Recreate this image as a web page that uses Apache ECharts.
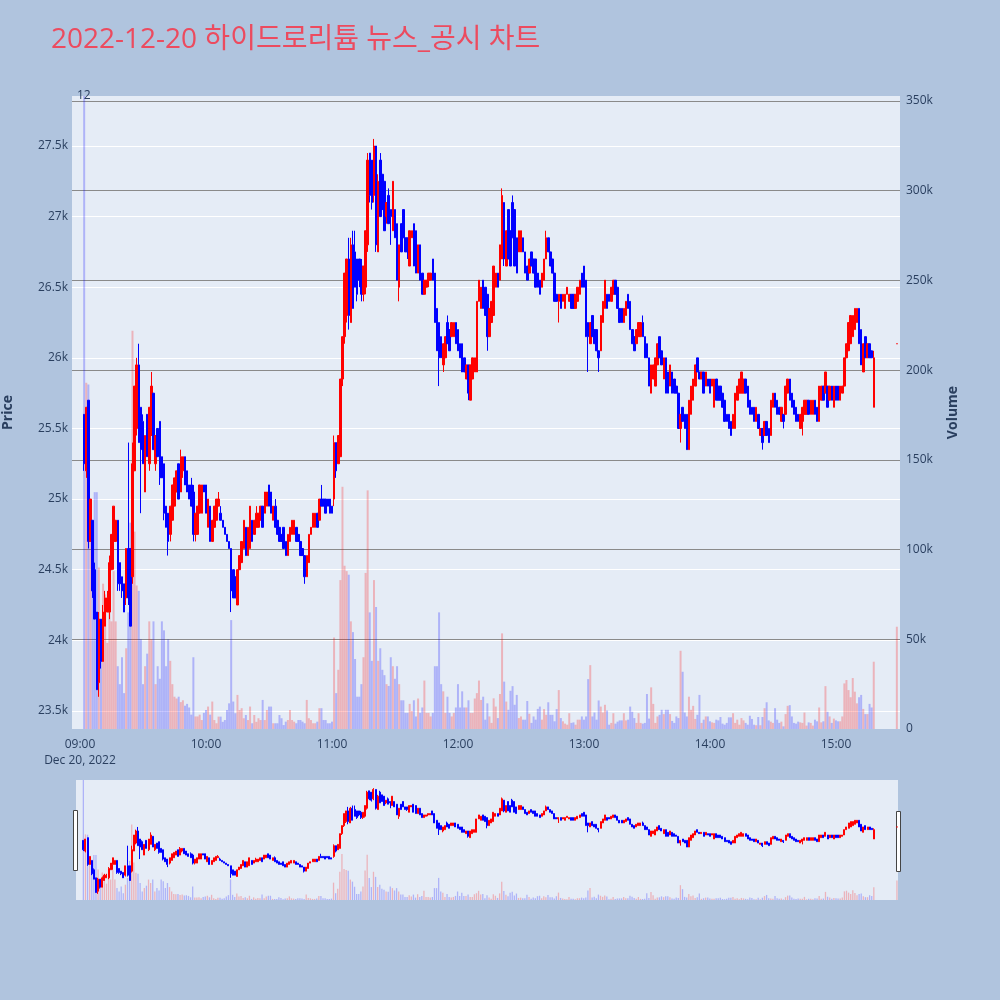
<!DOCTYPE html>
<html><head><meta charset="utf-8">
<script src="https://cdn.jsdelivr.net/npm/echarts@6/dist/echarts.min.js"></script>
<style>html,body{margin:0;padding:0;background:#b0c4de;}#c{width:1000px;height:1000px;}</style>
</head><body><div id="c"></div>
<script>
const chartTitle = '2022-12-20 하이드로리튬 뉴스_공시 차트';
const dateLabel = 'Dec 20, 2022';
const firstMinute = '09:02';
const closingAuctionTime = '15:29';
// [open, close, low, high] per minute
const candles = [
[25600,25250,25200,25600],[25200,25650,25150,25650],[25700,24700,24650,25700],[24700,25000,24700,25000],[24850,24350,24300,24850],
[24500,24150,24150,24550],[24200,23650,23650,24200],[23700,24150,23600,24200],[24150,23850,23800,24150],[23850,24200,23850,24250],
[24100,24300,24100,24350],[24200,24300,24200,24350],[24200,24550,24150,24600],[24500,24750,24500,24750],[24700,24950,24500,24950],
[24700,24850,24700,24850],[24850,24400,24350,24850],[24550,24400,24350,24550],[24450,24350,24300,24450],[24400,24200,24200,24400],
[24300,24650,24250,24650],[24650,24300,24250,25400],[24650,24100,24100,24650],[24450,25250,24400,25400],[25200,25800,25200,25800],
[25500,25950,25450,26000],[25950,25400,25400,26100],[25650,25350,24900,25650],[25550,25250,25250,25600],[25050,25450,25050,25450],
[25600,25300,25300,25600],[25250,25650,25200,25650],[25450,25800,25450,25900],[25750,25350,25350,25750],[25250,25450,25200,25450],
[25500,25300,25300,25500],[25550,25150,25100,25550],[25300,25150,25150,25300],[25250,24900,24850,25250],[24950,24800,24800,24950],
[24900,24700,24600,24900],[24750,24950,24700,24950],[24850,25100,24850,25100],[24950,25150,24950,25150],[25050,25200,25050,25200],
[25250,25000,25000,25250],[25050,25300,25050,25350],[25200,25300,25150,25300],[25300,25100,25100,25300],[25200,25050,25050,25200],
[25100,25000,25000,25100],[25100,24950,24950,25150],[25050,24750,24700,25100],[24750,24900,24700,24900],[24750,24950,24750,24950],
[24900,25100,24900,25100],[24900,25100,24900,25100],[25100,25050,25050,25100],
[25100,24900,24900,25100],[24800,25000,24800,25000],[24950,24700,24700,24950],[24700,24850,24700,24850],[24800,24950,24800,24950],
[24850,25000,24850,25000],[24950,25000,24950,25050],[24900,24850,24850,24950],[24850,24800,24800,24850],[24800,24750,24750,24800],
[24750,24700,24700,24750],[24700,24650,24650,24700],[24650,24350,24200,24650],[24500,24300,24300,24500],[24450,24300,24300,24450],
[24250,24500,24250,24500],[24500,24600,24500,24600],[24550,24700,24550,24700],[24650,24850,24650,24850],[24800,24600,24600,24800],
[24600,24800,24600,24800],[24650,24950,24650,24950],[24850,24700,24700,24850],[24750,24850,24750,24850],[24800,24900,24800,24950],
[24800,24900,24800,24900],[24850,24950,24850,24950],[24950,24800,24800,24950],[24900,25050,24900,25050],[24950,25050,24950,25050],
[25100,24950,24950,25100],[25050,24900,24900,25050],[24850,24950,24850,24950],[24950,24800,24800,25000],[24850,24750,24750,24850],
[24800,24700,24700,24800],[24750,24700,24700,24750],[24800,24650,24650,24800],[24700,24600,24600,24700],[24600,24750,24600,24750],
[24700,24800,24700,24800],[24750,24850,24750,24850],[24750,24850,24750,24850],[24800,24700,24700,24800],[24750,24700,24700,24750],
[24700,24600,24600,24700],[24650,24600,24600,24650],[24600,24450,24400,24600],[24450,24600,24450,24600],[24550,24750,24550,24750],
[24750,24800,24750,24800],[24800,24900,24800,24900],[24800,24900,24800,24900],[24900,24800,24800,24900],[24850,25000,24850,25000],
[25000,24950,24950,25100],[25000,24950,24950,25000],[25000,24900,24900,25000],[25000,24950,24950,25000],[25000,24900,24900,25000],
[24950,24900,24900,24950],
[25000,25400,24950,25450],[25400,25200,25150,25400],[25250,25450,25250,25450],[25300,25850,25300,25850],[25850,26150,25800,26150],
[26150,26600,26100,26600],[26300,26700,26250,26700],[26700,26300,26200,26850],[26250,26800,26250,26850],[26800,26350,26350,26900],
[26750,26500,26500,26900],[26700,26450,26400,26700],[26700,26550,26500,26700],[26650,26450,26400,26700],[26450,26650,26400,26650],
[26500,26900,26450,26900],[26800,27400,26750,27450],[27450,27150,27100,27450],[27400,27100,27050,27400],[27150,27500,27100,27550],
[27500,26800,26750,27500],[26750,27250,26750,27300],[27400,27000,27000,27450],[27300,27050,27050,27300],[27250,26900,26900,27250],
[27000,27100,26950,27100],[27150,26950,26950,27200],[27050,27000,26800,27050],[26900,27250,26900,27250],[27050,26850,26850,27050],
[26950,26550,26550,26950],[26500,26800,26400,26800],[26950,26750,26750,26950],[27050,26850,26850,27050],[26850,26750,26750,26850],
[26850,26750,26700,26850],[26650,26900,26650,26900],[26850,26900,26850,26900],[26950,26650,26650,26950],[26900,26600,26600,26900],
[26600,26800,26600,26800],[26800,26550,26550,26800],[26600,26450,26450,26600],[26450,26550,26450,26550],[26500,26550,26500,26550],
[26550,26600,26500,26600],[26550,26600,26550,26600],[26700,26550,26550,26700],[26600,26250,26250,26600],[26350,26050,26050,26350],
[26250,26000,25800,26250],[26150,26000,26000,26150],[25950,26100,25900,26100],[26000,26150,26000,26150],[26250,26100,26100,26300],
[26200,26050,26050,26200],[26150,26250,26150,26250],[26150,26250,26150,26250],[26250,26100,26100,26250],[26200,26050,26050,26200],
[26100,26000,26000,26100],[26100,25900,25900,26100],[26000,25900,25900,26000],[25850,25950,25850,25950],[25950,25750,25700,25950],
[25700,25950,25700,25950],[25850,26000,25850,26000],
[25900,26000,25900,26000],[25900,26400,25900,26400],[26400,26550,26400,26550],[26350,26500,26350,26500],[26550,26350,26350,26550],
[26500,26300,26300,26500],[26450,26150,26050,26450],[26150,26350,26150,26350],[26250,26400,26250,26400],[26300,26650,26300,26650],
[26500,26600,26500,26600],[26600,26500,26500,26600],[26550,26800,26550,26800],[26700,27150,26700,27200],[27100,26700,26650,27100],
[26650,26900,26650,26900],[27050,26700,26700,27050],[26900,26650,26650,26900],[27100,26850,26850,27150],[27050,26650,26650,27050],
[26850,26600,26600,26850],[26750,26900,26750,26900],[26750,26900,26750,26900],[26850,26750,26750,26850],[26750,26600,26600,26750],
[26650,26550,26550,26650],[26600,26700,26600,26700],[26750,26650,26650,26750],[26700,26600,26600,26700],[26700,26500,26500,26700],
[26600,26500,26500,26600],[26550,26450,26450,26550],[26500,26600,26500,26600],[26550,26700,26550,26700],[26700,26850,26700,26900],
[26850,26750,26750,26850],[26750,26650,26650,26750],[26700,26600,26600,26700],[26600,26400,26400,26600],[26450,26400,26400,26450],
[26400,26450,26250,26450],[26450,26350,26350,26450],[26400,26450,26400,26450],[26350,26450,26350,26450],[26450,26500,26450,26500],
[26400,26450,26400,26450],[26450,26350,26350,26450],[26450,26350,26350,26450],[26350,26450,26350,26450],[26400,26500,26400,26500],
[26450,26550,26450,26550],[26600,26500,26500,26600],[26650,26500,26500,26650],[26550,26150,26150,26550],[26250,26150,25900,26250],
[26100,26250,26100,26250],[26300,26150,26150,26300],[26200,26100,26100,26200],[26200,26050,26050,26200],[26050,26000,25900,26050],
[26050,26300,26050,26300],[26250,26400,26250,26400],[26350,26550,26350,26550],[26450,26350,26350,26450],
[26450,26400,26400,26450],[26400,26500,26400,26500],[26450,26550,26450,26550],[26550,26450,26450,26550],[26500,26350,26350,26500],
[26350,26250,26250,26350],[26350,26250,26250,26350],[26250,26350,26250,26350],[26300,26400,26300,26400],[26450,26350,26350,26450],
[26400,26200,26200,26400],[26200,26100,26100,26200],[26150,26050,26050,26150],[26100,26200,26100,26200],[26150,26250,26150,26250],
[26150,26250,26150,26250],[26250,26150,26150,26300],[26150,26000,26000,26150],[26100,26000,26000,26100],[26000,25800,25800,26000],
[25750,25950,25750,25950],[25850,25950,25850,25950],[25800,26000,25800,26000],[25950,26100,25950,26100],[26150,26000,26000,26150],
[26050,25950,25950,26050],[25850,26000,25850,26000],[26000,25750,25750,26000],[25900,25750,25750,25900],[25800,25950,25800,25950],
[25900,25750,25750,25900],[25850,25750,25750,25850],[25800,25750,25750,25800],[25750,25500,25500,25750],[25500,25600,25400,25600],
[25650,25550,25550,25650],[25600,25500,25500,25600],[25600,25350,25350,25600],[25350,25700,25350,25700],[25600,25800,25600,25800],
[25700,25850,25700,25850],[25800,25950,25800,25950],[26000,25900,25900,26000],[25900,25850,25850,25900],[25850,25900,25850,25900],
[25900,25750,25750,25900],[25800,25900,25800,25900],[25850,25800,25800,25850],[25850,25750,25750,25850],[25800,25850,25800,25850],
[25650,25850,25650,25850],[25850,25700,25700,25850],[25800,25700,25700,25800],[25800,25700,25700,25800],[25750,25650,25650,25750],
[25700,25550,25550,25700],[25600,25550,25550,25600],[25600,25500,25500,25600],[25550,25450,25450,25550],[25500,25600,25500,25600],
[25500,25750,25500,25750],[25700,25800,25700,25800],[25750,25850,25750,25850],[25750,25900,25750,25900],[25750,25850,25750,25850],
[25850,25750,25750,25850],[25800,25650,25650,25800],
[25700,25600,25600,25700],[25650,25600,25600,25650],[25650,25550,25550,25650],[25550,25650,25550,25650],[25600,25500,25500,25600],
[25450,25500,25450,25500],[25500,25400,25350,25500],[25450,25550,25450,25550],[25550,25450,25450,25550],[25500,25400,25400,25500],
[25450,25700,25450,25700],[25650,25750,25650,25750],[25750,25650,25650,25750],[25700,25600,25600,25700],[25650,25600,25600,25650],
[25550,25650,25550,25650],[25600,25550,25500,25600],[25600,25800,25600,25800],[25750,25850,25750,25850],[25850,25700,25700,25850],
[25750,25650,25650,25750],[25700,25600,25600,25700],[25650,25550,25550,25650],[25600,25550,25550,25600],[25500,25600,25500,25600],
[25550,25650,25450,25650],[25600,25700,25600,25700],[25600,25700,25600,25700],[25700,25600,25600,25700],[25600,25700,25600,25700],
[25600,25700,25600,25700],[25700,25600,25600,25700],[25650,25550,25550,25650],[25550,25800,25550,25800],[25700,25800,25700,25800],
[25800,25700,25700,25800],[25750,25900,25750,25900],[25800,25650,25650,25800],[25700,25800,25700,25800],[25800,25700,25700,25800],
[25650,25800,25650,25800],[25800,25700,25700,25800],[25800,25700,25700,25800],[25700,25800,25700,25800],[25750,25800,25750,25800],
[25800,26000,25800,26000],[26000,26100,26000,26100],[26050,26250,26050,26250],[26100,26300,26100,26300],[26150,26300,26150,26300],
[26200,26350,26200,26350],[26250,26350,26250,26350],[26350,26100,26100,26350],[26200,25950,25950,26200],[25900,26100,25900,26100],
[26150,26000,26000,26150],[26000,26100,26000,26100],[26100,26000,26000,26100],[26050,26000,26000,26050],[25650,26000,25650,26050]
];
const closingCandle = [26100,26100,26100,26100];
const volumes = [
400000,193000,192000,128000,80000,132000,132000,90000,42000,81000,
75000,48000,66000,60000,88000,60000,35000,25000,40000,20000,
45000,65000,115000,222000,110000,80000,77000,50000,25000,35000,
42000,60000,50000,60000,25000,35000,28000,60000,55000,35000,
50000,38000,25000,18000,17000,18000,15000,16000,13000,14000,
12000,8000,40000,7000,7000,8000,5000,9000,
10600,12500,8000,15300,5000,3200,6900,6900,4000,5000,
10600,14300,60700,15300,8800,19000,10600,11600,6000,7800,
5000,12500,3200,7800,4000,6000,5000,16200,5000,10600,
12500,12500,3200,3200,3200,7800,6000,2200,4100,5000,
10600,5000,4100,3200,5000,5000,4100,3200,16200,6000,
5000,3200,3200,4100,11600,11600,5000,5000,3200,3200,4100,
51000,20000,33000,83000,135000,91000,88000,86000,60000,54000,
39000,18000,18000,25000,40000,87000,133000,65000,38000,83000,
68000,38000,45000,33000,30000,25000,24000,40000,35000,28000,
35000,25000,16000,16000,9000,9000,14000,10000,16000,7000,
17000,9000,12000,27000,9000,9000,7000,9000,35000,35000,
65000,25000,21000,9000,18000,9000,7000,9000,12000,25000,
12000,21000,12000,12000,16000,9000,9000,17000,20000,27000,
16200,18000,5200,14300,7000,3400,17100,12500,6100,19500,
53300,26400,15300,10700,21300,23900,13500,19000,6100,7000,
5200,5200,15600,8500,3400,7000,5200,11200,12500,
5200,11100,7900,14900,7900,7900,4300,11100,21700,6100,
4300,3000,2400,8800,3400,3700,2400,5200,5200,
7000,5200,7000,27800,35600,7000,9200,5200,15900,12500,
9200,13500,10300,2400,3400,8800,3000,4100,4800,
4800,8800,4800,5200,12500,9600,6100,3400,8800,3400,
3000,3400,19500,5800,23200,14000,3400,7000,7900,
10700,8300,10700,10700,8300,4500,3400,7000,6100,43600,
31900,9200,7000,18000,10700,12900,5600,7900,19000,3400,
5200,7000,7000,4300,3700,3400,5200,4800,6700,
3000,2400,3400,6500,6500,8800,3400,5200,2400,
6100,4800,3400,2400,7400,5600,2400,2100,6700,2100,
6700,11600,14900,4800,4100,3400,11600,5200,3400,
4100,1500,8300,12900,13300,7000,3400,3000,4100,3700,
3400,9200,1900,3700,3400,1900,5200,4300,12000,
3700,4300,23900,9600,7000,3400,5800,4800,4300,
4300,7000,25400,27300,21700,17700,28400,20800,14300,17700,
19000,11200,8300,8300,14000,12000,37500
];
const closingVolume = 57000;
const priceTicks = [23500,24000,24500,25000,25500,26000,26500,27000,27500];
const volumeTicks = [0,50000,100000,150000,200000,250000,300000,350000];
const hourTicks = ['09:00','10:00','11:00','12:00','13:00','14:00','15:00'];

const toMin = t => { const p = t.split(':').map(Number); return p[0]*60 + p[1] - 540; };
const startMin = toMin(firstMinute);
const allCandles = candles.concat([closingCandle]);
const allX = candles.map((_, i) => startMin + i).concat([toMin(closingAuctionTime)]);
const allVol = volumes.slice(0, candles.length).concat([closingVolume]);
const isUp = allCandles.map(c => c[1] >= c[0]);
const hourMins = hourTicks.map(toMin);

const candleData = allCandles.map((c, i) => [allX[i], c[0], c[1], c[2], c[3]]);
const volData = allX.map((x, i) => [x, allVol[i] == null ? 0 : allVol[i]]);
const UP_VOL = 'rgba(255,0,0,0.24)', DOWN_VOL = 'rgba(0,0,255,0.24)';

function volumeRenderer(w) {
  return function (params, api) {
    const x = api.value(0), v = api.value(1);
    const base = api.coord([x, 0]);
    const top = api.coord([x, v]);
    const cs = params.coordSys;
    const rect = echarts.graphic.clipRectByRect(
      {x: base[0] - w / 2, y: top[1], width: w, height: base[1] - top[1]},
      {x: cs.x, y: cs.y, width: cs.width, height: cs.height}
    );
    if (!rect) return null;
    return {type: 'rect', shape: rect, style: {fill: isUp[params.dataIndex] ? UP_VOL : DOWN_VOL}};
  };
}

const TXT = '#2a3f5f';
const FONT = 'Open Sans';
const X_MIN = -3.8, X_MAX = 390.5;
const P_MIN = 23372, P_MAX = 27854;
const V_MIN = 0, V_MAX = 352800;

const chart = echarts.init(document.getElementById('c'), null, {renderer: 'canvas'});
chart.setOption({
  animation: false,
  backgroundColor: '#b0c4de',
  title: {
    text: chartTitle, left: 46, top: 21,
    textStyle: {fontSize: 28, color: '#ec4b5f', fontWeight: 'normal', fontFamily: '"Open Sans", "Noto Sans CJK KR"'}
  },
  grid: [
    {left: 72, right: 100, top: 96, height: 633, show: true, backgroundColor: '#e5ecf6', borderWidth: 0,
     containLabel: false, outerBoundsMode: 'none'},
    {left: 76, right: 102, top: 780, height: 120, show: true, backgroundColor: '#e5ecf6', borderWidth: 0,
     containLabel: false, outerBoundsMode: 'none'}
  ],
  xAxis: [
    {
      type: 'value', gridIndex: 0, min: X_MIN, max: X_MAX, minInterval: 60, maxInterval: 60,
      axisLine: {show: false}, axisTick: {show: false}, splitLine: {show: false},
      axisLabel: {
        color: TXT, fontSize: 12, fontFamily: FONT, margin: 8, lineHeight: 16,
        formatter: v => {
          const k = hourMins.findIndex(m => Math.abs(m - v) < 1e-6);
          if (k < 0) return '';
          return k === 0 ? hourTicks[k] + '\n' + dateLabel : hourTicks[k];
        }
      }
    },
    {
      type: 'value', gridIndex: 1, min: -1.5, max: 389.5, show: false,
      splitLine: {show: false}
    }
  ],
  yAxis: [
    {
      type: 'value', gridIndex: 0, position: 'left', min: P_MIN, max: P_MAX, minInterval: 500, maxInterval: 500,
      axisLine: {show: false}, axisTick: {show: false},
      splitLine: {show: true, showMinLine: false, showMaxLine: false, lineStyle: {color: '#ffffff', width: 1}},
      axisLabel: {
        color: TXT, fontSize: 12, fontFamily: FONT, margin: 4,
        formatter: v => priceTicks.some(t => Math.abs(t - v) < 1e-6) ? (v / 1000) + 'k' : ''
      },
      name: 'Price', nameLocation: 'middle', nameGap: 57, nameRotate: 90,
      nameTextStyle: {color: TXT, fontSize: 14, fontWeight: 'bold', fontFamily: FONT}
    },
    {
      type: 'value', gridIndex: 0, position: 'right', min: V_MIN, max: V_MAX, minInterval: 50000, maxInterval: 50000,
      axisLine: {show: false}, axisTick: {show: false},
      splitLine: {show: true, showMinLine: false, showMaxLine: false, lineStyle: {color: '#8a8a8a', width: 1}},
      axisLabel: {
        color: TXT, fontSize: 12, fontFamily: FONT, margin: 6,
        formatter: v => volumeTicks.some(t => Math.abs(t - v) < 1e-6) ? (v === 0 ? '0' : (v / 1000) + 'k') : ''
      },
      name: 'Volume', nameLocation: 'middle', nameGap: 46, nameRotate: 90,
      nameTextStyle: {color: TXT, fontSize: 14, fontWeight: 'bold', fontFamily: FONT}
    },
    {type: 'value', gridIndex: 1, min: P_MIN, max: P_MAX, show: false, splitLine: {show: false}},
    {type: 'value', gridIndex: 1, min: V_MIN, max: V_MAX, show: false, splitLine: {show: false}}
  ],
  series: [
    {
      type: 'custom', xAxisIndex: 0, yAxisIndex: 1, data: volData, encode: {x: 0, y: 1},
      renderItem: volumeRenderer(2), z: 1, silent: true
    },
    {
      type: 'candlestick', xAxisIndex: 0, yAxisIndex: 0, data: candleData, encode: {x: 0, y: [1, 2, 3, 4]},
      barWidth: 2, z: 3, silent: true, clip: true,
      itemStyle: {color: '#ff0000', color0: '#0000ff', borderColor: '#ff0000', borderColor0: '#0000ff', borderWidth: 1}
    },
    {
      type: 'custom', xAxisIndex: 1, yAxisIndex: 3, data: volData, encode: {x: 0, y: 1},
      renderItem: volumeRenderer(1.3), z: 1, silent: true
    },
    {
      type: 'candlestick', xAxisIndex: 1, yAxisIndex: 2, data: candleData, encode: {x: 0, y: [1, 2, 3, 4]},
      barWidth: 1.5, z: 3, silent: true, clip: true,
      itemStyle: {color: '#ff0000', color0: '#0000ff', borderColor: '#ff0000', borderColor0: '#0000ff', borderWidth: 1}
    }
  ],
  graphic: [
    {type: 'text', left: 77, top: 90, z: 10, style: {text: '12', fill: TXT, font: '12px "Open Sans"'}},
    {type: 'rect', shape: {x: 73.5, y: 810.5, width: 4, height: 60}, style: {fill: '#ffffff', stroke: '#444444', lineWidth: 1}},
    {type: 'rect', shape: {x: 896.5, y: 811.5, width: 4, height: 60}, style: {fill: '#ffffff', stroke: '#444444', lineWidth: 1}}
  ]
});
</script>
</body></html>
